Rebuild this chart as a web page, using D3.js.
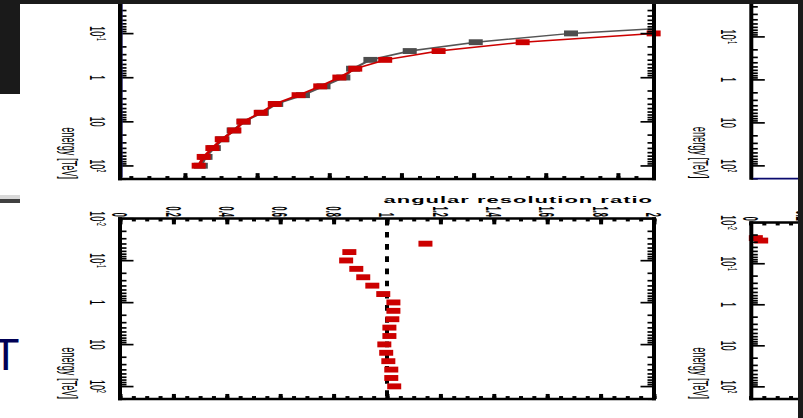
<!DOCTYPE html>
<html>
<head>
<meta charset="utf-8">
<script src="https://cdn.jsdelivr.net/npm/d3@7"></script>
<style>
  body { margin: 0; background: #fff; overflow: hidden; }
  svg { display: block; }
  text { font-family: "Liberation Sans", Arial, Helvetica, sans-serif; }
</style>
</head>
<body>
<script>
// energy bins, log10(E / TeV)
var resLogE = [2.0, 1.8, 1.6, 1.4, 1.2, 1.0, 0.8, 0.6, 0.4, 0.2, 0.0, -0.2, -0.4, -0.6, -0.8, -1.0, -1.2];
// angular resolution, two configurations (top panel)
var resGray = [0.0244, 0.0257, 0.0280, 0.0304, 0.0335, 0.0363, 0.0413, 0.0453, 0.0527, 0.0584, 0.0639, 0.0666, 0.0714, 0.0823, 0.1006, 0.1270, 0.170];
var resRed  = [0.0238, 0.0252, 0.0276, 0.0302, 0.0337, 0.0362, 0.0410, 0.0449, 0.0515, 0.0575, 0.0628, 0.0672, 0.0755, 0.0903, 0.1136, 0.1499, 0.198];

// angular resolution ratio (bottom panel)
var ratioLogE = [-1.4, -1.2, -1.0, -0.8, -0.6, -0.4, -0.2, 0.0, 0.2, 0.4, 0.6, 0.8, 1.0, 1.2, 1.4, 1.6, 1.8, 2.0];
var ratio = [1.144, 0.859, 0.847, 0.885, 0.911, 0.945, 0.986, 1.024, 1.024, 1.020, 1.009, 1.009, 0.990, 0.997, 1.005, 1.016, 1.016, 1.027];

// the cut-off panel on the right
var sideLogE = [-1.62, -1.56];
var sideRatio = [0.02, 0.04];

var energyTicks = [-2, -1, 0, 1, 2];
var energyBase = ["10", "10", "1", "10", "10"];
var energySup = ["-2", "-1", "", "", "2"];
var ratioTicks = [0, 0.2, 0.4, 0.6, 0.8, 1, 1.2, 1.4, 1.6, 1.8, 2];

var width = 803, height = 418;
var K = 0.42;                       // the figure is squashed vertically
function iy(v) { return v / K; }    // screen y -> inner y

var red = "#cc0000", gray = "#4d4d4d";

var svg = d3.select("body").append("svg")
    .attr("width", width)
    .attr("height", height);

var fig = svg.append("g").attr("transform", "scale(1," + K + ")");

function energyScale(top, bottom) {
    return d3.scaleLog().domain([0.01, 200]).range([iy(top), iy(bottom)]);
}

var minorE = [];
energyTicks.forEach(function(d) {
    for (var m = 2; m <= 9; m++) {
        var v = m * Math.pow(10, d);
        if (v <= 200) minorE.push(v);
    }
});
var majorE = energyTicks.map(function(d) { return Math.pow(10, d); });

function ticks(axisFn, scale, values, size, tx, ty) {
    fig.append("g")
        .attr("transform", "translate(" + tx + "," + ty + ")")
        .call(axisFn(scale).tickValues(values).tickSize(size).tickSizeOuter(0).tickFormat(""))
        .call(function(a) { a.select(".domain").remove(); })
        .selectAll("line").attr("stroke", "#000").attr("stroke-width", 4);
}

function line(x1, y1, x2, y2, w, c) {
    fig.append("line")
        .attr("x1", x1).attr("y1", y1).attr("x2", x2).attr("y2", y2)
        .attr("stroke", c || "#000").attr("stroke-width", w);
}

function energyAxis(y, ax, bottom) {
    ticks(d3.axisRight, y, majorE, 13.5, ax, 0);
    ticks(d3.axisRight, y, minorE, 6.5, ax, 0);

    // only the labels that fall inside the picture
    var shown = energyTicks.filter(function(d) { return y(Math.pow(10, d)) * K > 10; });
    var t = fig.selectAll(null).data(shown).enter().append("text")
        .attr("transform", function(d) { return "translate(" + (ax - 30) + "," + y(Math.pow(10, d)) + ") rotate(90)"; })
        .attr("text-anchor", "middle")
        .style("font-size", "22px");
    t.append("tspan").text(function(d) { return energyBase[energyTicks.indexOf(d)]; });
    t.append("tspan").attr("dy", -7).style("font-size", "12px")
        .text(function(d) { return energySup[energyTicks.indexOf(d)]; });

    fig.append("text")
        .attr("transform", "translate(" + (ax - 58.5) + "," + iy(bottom) + ") rotate(90)")
        .attr("text-anchor", "end")
        .style("font-size", "22px")
        .text("energy [TeV]");
}

function ratioLabels(x, values, bottom) {
    fig.selectAll(null).data(values).enter().append("text")
        .attr("transform", function(d) { return "translate(" + (x(d) - 7.9) + "," + iy(bottom) + ") rotate(90) scale(0.8,1)"; })
        .attr("text-anchor", "end")
        .style("font-size", "22px")
        .style("font-weight", "bold")
        .text(function(d) { return String(d); });
}

// ---------- top left: angular resolution ----------
var tl = { x0: 120, x1: 654, top: -10.7, bottom: 179 };
var xRes = d3.scaleLinear().domain([0.002, 0.15]).range([tl.x0, tl.x1]);
var yTop = energyScale(tl.top, tl.bottom);

fig.append("clipPath").attr("id", "clipTop")
    .append("rect")
    .attr("x", tl.x0).attr("y", iy(tl.top))
    .attr("width", tl.x1 - tl.x0).attr("height", iy(tl.bottom) - iy(tl.top));

var resLine = d3.line()
    .x(function(d) { return xRes(d[1]); })
    .y(function(d) { return yTop(Math.pow(10, d[0])); });

[[resGray, gray, "#555"], [resRed, red, red]].forEach(function(s) {
    var pts = resLogE.map(function(e, i) { return [e, s[0][i]]; });
    fig.append("path")
        .datum(pts)
        .attr("clip-path", "url(#clipTop)")
        .attr("fill", "none")
        .attr("stroke", s[2])
        .attr("stroke-width", 3.5)
        .attr("d", resLine);
    fig.selectAll(null)
        .data(pts.filter(function(d) { return d[1] <= 0.15; }))
        .enter().append("rect")
        .attr("x", function(d) { return xRes(d[1]) - 7; })
        .attr("y", function(d) { return yTop(Math.pow(10, d[0])) - 7; })
        .attr("width", 14).attr("height", 14)
        .attr("fill", s[1]);
});

energyAxis(yTop, tl.x0, tl.bottom);
ticks(d3.axisLeft, yTop, majorE, 13.5, tl.x1, 0);
ticks(d3.axisLeft, yTop, minorE, 6.5, tl.x1, 0);
ticks(d3.axisTop, xRes, d3.range(0.02, 0.15, 0.02), 14, 0, iy(tl.bottom));
ticks(d3.axisTop, xRes, d3.range(0.005, 0.15, 0.005), 7, 0, iy(tl.bottom));
line(tl.x0, iy(tl.top), tl.x0, iy(tl.bottom) + 3, 4);
line(tl.x1, iy(tl.top), tl.x1, iy(tl.bottom) + 3, 4);
line(tl.x0 - 2, iy(tl.bottom), tl.x1 + 2, iy(tl.bottom), 6);
line(tl.x0 + 2.5, iy(tl.top), tl.x0 + 2.5, iy(tl.bottom) - 3, 1, "#1a1a66");

// ---------- bottom left: ratio ----------
var bl = { x0: 120, x1: 654, top: 218.5, bottom: 399 };
var xRatio = d3.scaleLinear().domain([0, 2]).range([bl.x0, bl.x1]);
var yBot = energyScale(bl.top, bl.bottom);

fig.append("line")
    .attr("x1", xRatio(1)).attr("x2", xRatio(1))
    .attr("y1", yBot(0.01)).attr("y2", yBot(200))
    .attr("stroke", "#000").attr("stroke-width", 4)
    .attr("stroke-dasharray", "13.5,15.5")
    .attr("stroke-dashoffset", -3);

fig.selectAll(null)
    .data(ratioLogE.map(function(e, i) { return [e, ratio[i]]; }))
    .enter().append("rect")
    .attr("x", function(d) { return xRatio(d[1]) - 7; })
    .attr("y", function(d) { return yBot(Math.pow(10, d[0])) - 7; })
    .attr("width", 14).attr("height", 14)
    .attr("fill", red);

energyAxis(yBot, bl.x0, bl.bottom);
ticks(d3.axisLeft, yBot, majorE, 13.5, bl.x1, 0);
ticks(d3.axisLeft, yBot, minorE, 6.5, bl.x1, 0);
ticks(d3.axisBottom, xRatio, ratioTicks, 14, 0, iy(bl.top));
ticks(d3.axisBottom, xRatio, d3.range(0, 2.001, 0.05), 7, 0, iy(bl.top));
ticks(d3.axisTop, xRatio, ratioTicks, 12, 0, iy(bl.bottom));
ticks(d3.axisTop, xRatio, d3.range(0, 2.001, 0.05), 7, 0, iy(bl.bottom));
line(bl.x0, iy(bl.top) - 3, bl.x0, iy(bl.bottom) + 3, 4);
line(bl.x1, iy(bl.top) - 3, bl.x1, iy(bl.bottom) + 3, 4);
line(bl.x0 - 2, iy(bl.top), bl.x1 + 2, iy(bl.top), 6);
line(bl.x0 - 2, iy(bl.bottom), bl.x1 + 2, iy(bl.bottom), 6);

ratioLabels(xRatio, ratioTicks, 216.8);

fig.append("text")
    .attr("x", bl.x1 - 1).attr("y", iy(203.4))
    .attr("text-anchor", "end")
    .style("font-size", "22px")
    .style("font-weight", "bold")
    .style("letter-spacing", "1px")
    .text("angular resolution ratio");

// ---------- right column (cut off) ----------
var tr = { x0: 751.3, top: -6.3, bottom: 178.6 };
var yTR = energyScale(tr.top, tr.bottom);
energyAxis(yTR, tr.x0, tr.bottom);
line(tr.x0, iy(tr.top), tr.x0, iy(tr.bottom) + 3, 4);
line(tr.x0 + 2, iy(tr.bottom), width, iy(tr.bottom), 4.5, "#0a0a6e");

var br = { x0: 751.3, top: 222.5, bottom: 399 };
var yBR = energyScale(br.top, br.bottom);
var xBR = d3.scaleLinear().domain([0, 2]).range([750.5, 750.5 + 534]);
ticks(d3.axisBottom, xBR, d3.range(0, 2.001, 0.05), 7, 0, iy(br.top));
ticks(d3.axisTop, xBR, d3.range(0, 2.001, 0.05), 7, 0, iy(br.bottom));
fig.selectAll(null)
    .data(sideLogE.map(function(e, i) { return [e, sideRatio[i]]; }))
    .enter().append("rect")
    .attr("x", function(d) { return xBR(d[1]) - 7; })
    .attr("y", function(d) { return yBR(Math.pow(10, d[0])) - 7; })
    .attr("width", 14).attr("height", 14)
    .attr("fill", red);
energyAxis(yBR, br.x0, br.bottom);
line(br.x0, iy(br.top) - 3, br.x0, iy(br.bottom) + 3, 4);
line(br.x0 - 2, iy(br.top), width, iy(br.top), 6);
line(br.x0 - 2, iy(br.bottom), width, iy(br.bottom), 6);
ratioLabels(xBR, ratioTicks.slice(0, 2), 220.8);

// ---------- slide frame around the figure ----------
svg.append("rect").attr("x", 0).attr("y", 0).attr("width", width).attr("height", 4).attr("fill", "#1a1a1a");
svg.append("rect").attr("x", 0).attr("y", 0).attr("width", 20).attr("height", 94).attr("fill", "#1a1a1a");
svg.append("rect").attr("x", 798).attr("y", 0).attr("width", 5).attr("height", height).attr("fill", "#1a1a1a");
svg.append("rect").attr("x", 0).attr("y", 195).attr("width", 20).attr("height", 4).attr("fill", "#d9d9d9");
svg.append("rect").attr("x", 0).attr("y", 199).attr("width", 20).attr("height", 4).attr("fill", "#404040");
svg.append("text")
    .attr("x", -8).attr("y", 369.5)
    .style("font-size", "45px")
    .attr("fill", "#000055")
    .text("T");
</script>
</body>
</html>
